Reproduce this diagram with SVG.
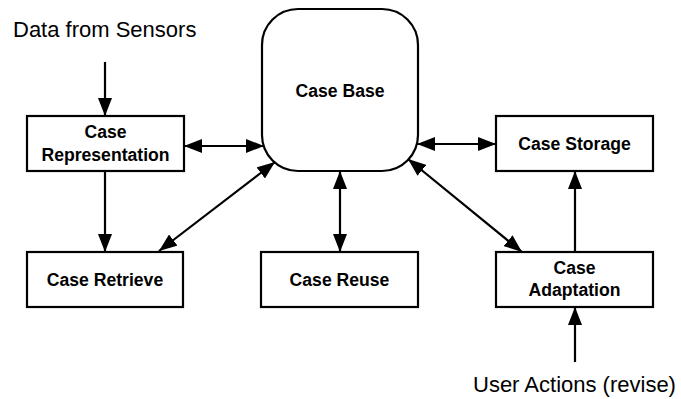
<svg xmlns="http://www.w3.org/2000/svg" width="681" height="399" viewBox="0 0 681 399">
  <style>
    .box { fill: #fff; stroke: #000; stroke-width: 2.2; }
    .lbl { font-family: "Liberation Sans", Arial, sans-serif; font-size: 17.6px; font-weight: bold; text-anchor: middle; fill: #000; }
    .ext { font-family: "Liberation Sans", Arial, sans-serif; font-size: 22px; fill: #000; }
    .conn { stroke: #000; stroke-width: 2.2; fill: none; }
  </style>
  <defs>
    <marker id="head" markerUnits="userSpaceOnUse" markerWidth="18" markerHeight="14" refX="18" refY="7" orient="auto-start-reverse">
      <path d="M0,0 L18,7 L0,14 z" fill="#000"/>
    </marker>
  </defs>

  <rect width="681" height="399" fill="#fff"/>

  <g id="connectors">
    <line class="conn" x1="105" y1="62" x2="105" y2="116" marker-end="url(#head)"/>
    <line class="conn" x1="184" y1="146" x2="264" y2="146" marker-start="url(#head)" marker-end="url(#head)"/>
    <line class="conn" x1="105" y1="171" x2="105" y2="252" marker-end="url(#head)"/>
    <line class="conn" x1="159" y1="251" x2="275" y2="162" marker-start="url(#head)" marker-end="url(#head)"/>
    <line class="conn" x1="340" y1="171" x2="340" y2="252" marker-start="url(#head)" marker-end="url(#head)"/>
    <line class="conn" x1="408" y1="159" x2="522" y2="252" marker-start="url(#head)" marker-end="url(#head)"/>
    <line class="conn" x1="417" y1="144" x2="496" y2="144" marker-start="url(#head)" marker-end="url(#head)"/>
    <line class="conn" x1="575" y1="252" x2="575" y2="171" marker-end="url(#head)"/>
    <line class="conn" x1="575" y1="362" x2="575" y2="307" marker-end="url(#head)"/>
  </g>

  <g id="case-base">
    <rect class="box" x="262" y="9" width="156" height="162" rx="36" ry="36"/>
    <text class="lbl" x="340" y="96.5">Case Base</text>
  </g>

  <g id="case-representation">
    <rect class="box" x="27" y="116" width="157" height="55"/>
    <text class="lbl" x="105.5" y="138">Case</text>
    <text class="lbl" x="105.5" y="160.5">Representation</text>
  </g>

  <g id="case-storage">
    <rect class="box" x="496" y="116" width="157" height="55"/>
    <text class="lbl" x="574.5" y="150">Case Storage</text>
  </g>

  <g id="case-retrieve">
    <rect class="box" x="27" y="252" width="156" height="55"/>
    <text class="lbl" x="105" y="286">Case Retrieve</text>
  </g>

  <g id="case-reuse">
    <rect class="box" x="261" y="252" width="157" height="55"/>
    <text class="lbl" x="339.5" y="286">Case Reuse</text>
  </g>

  <g id="case-adaptation">
    <rect class="box" x="496" y="252" width="157" height="55"/>
    <text class="lbl" x="574.5" y="273.5">Case</text>
    <text class="lbl" x="574.5" y="296">Adaptation</text>
  </g>

  <g id="sensor-input">
    <text class="ext" x="13" y="37">Data from Sensors</text>
  </g>

  <g id="user-input">
    <text class="ext" x="473" y="392">User Actions (revise)</text>
  </g>
</svg>
